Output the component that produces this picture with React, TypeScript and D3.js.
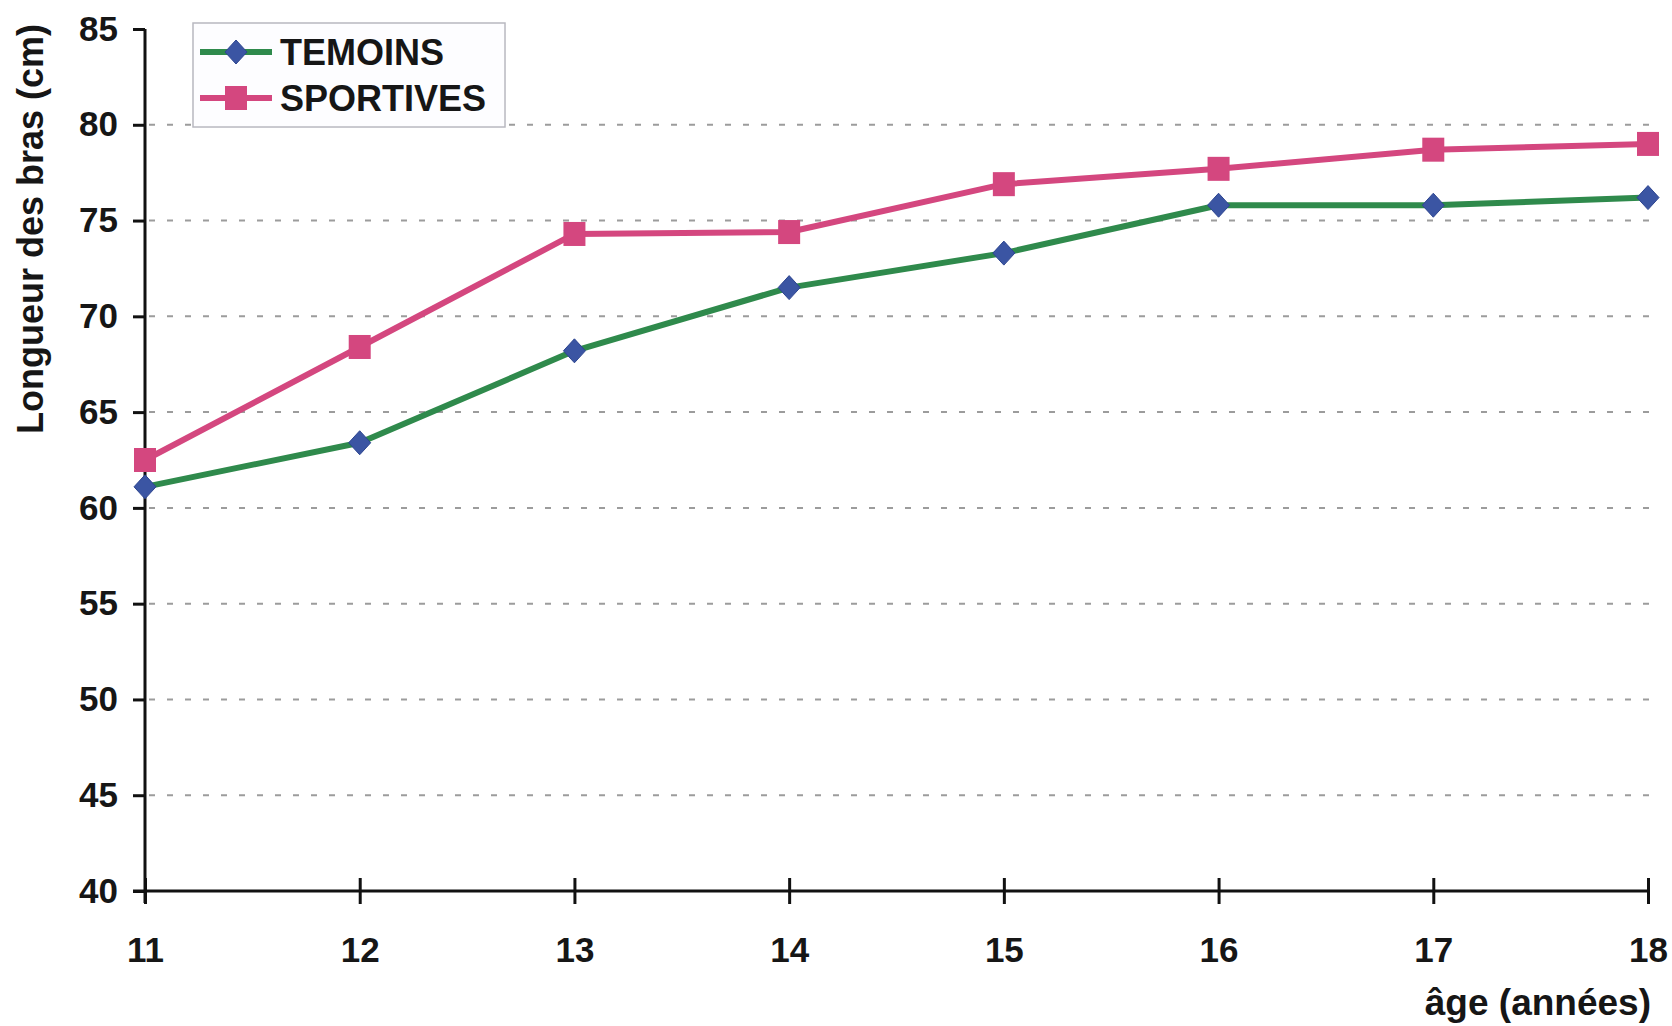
import React, { useEffect, useRef } from "react";
import * as d3 from "d3";

const ages = [11, 12, 13, 14, 15, 16, 17, 18];
const temoins = [61.1, 63.4, 68.2, 71.5, 73.3, 75.8, 75.8, 76.2];
const sportives = [62.5, 68.4, 74.3, 74.4, 76.9, 77.7, 78.7, 79.0];
const yTicks = [40, 45, 50, 55, 60, 65, 70, 75, 80, 85];
const gridValues = [45, 50, 55, 60, 65, 70, 75, 80];

const FONT = "'Liberation Sans', Arial, Helvetica, sans-serif";

export default function App() {
  const svgRef = useRef<SVGSVGElement>(null);

  useEffect(() => {
    const width = 1672;
    const height = 1026;
    const svg = d3.select(svgRef.current);
    svg.selectAll("*").remove();
    svg.attr("width", width).attr("height", height);

    // scales
    const x = d3.scaleLinear().domain([11, 18]).range([145, 1648]);
    const y = d3.scaleLinear().domain([40, 85]).range([891, 29]);

    const textColor = "#161616";

    // dashed grid lines
    svg.append("g")
      .selectAll("line")
      .data(gridValues)
      .enter()
      .append("line")
      .attr("x1", x(11) + 4)
      .attr("x2", 1652)
      .attr("y1", d => y(d))
      .attr("y2", d => y(d))
      .attr("stroke", "#9c9c9c")
      .attr("stroke-width", 2)
      .attr("stroke-dasharray", "6,12");

    // y axis
    const yAxis = d3.axisLeft(y).tickValues(yTicks).tickSize(12).tickPadding(15).tickFormat(d3.format("d"));
    const gy = svg.append("g")
      .attr("transform", `translate(${x(11)},0)`)
      .call(yAxis);
    gy.select(".domain").remove();
    gy.append("line")
      .attr("x1", 0).attr("x2", 0)
      .attr("y1", y(85)).attr("y2", y(40) + 12)
      .attr("stroke", "#111").attr("stroke-width", 3);
    gy.selectAll(".tick line").attr("stroke", "#111").attr("stroke-width", 3);
    gy.selectAll(".tick text")
      .attr("fill", textColor)
      .style("font-family", FONT)
      .style("font-weight", "bold")
      .style("font-size", "35px");

    // x axis
    const xAxis = d3.axisBottom(x).tickValues(ages).tickSize(12).tickPadding(34).tickFormat(d3.format("d"));
    const gx = svg.append("g")
      .attr("transform", `translate(0,${y(40)})`)
      .call(xAxis);
    gx.select(".domain").remove();
    gx.append("line")
      .attr("x1", x(11) - 12).attr("x2", x(18))
      .attr("y1", 0).attr("y2", 0)
      .attr("stroke", "#111").attr("stroke-width", 3);
    gx.selectAll(".tick line")
      .attr("y1", -13)
      .attr("y2", 13)
      .attr("stroke", "#111").attr("stroke-width", 3);
    gx.selectAll(".tick text")
      .attr("fill", textColor)
      .style("font-family", FONT)
      .style("font-weight", "bold")
      .style("font-size", "35px");

    // axis titles
    svg.append("text")
      .attr("transform", "translate(43,229) rotate(-90)")
      .attr("text-anchor", "middle")
      .attr("fill", textColor)
      .style("font-family", FONT)
      .style("font-weight", "bold")
      .style("font-size", "36px")
      .text("Longueur des bras (cm)");

    svg.append("text")
      .attr("x", 1651)
      .attr("y", 1015)
      .attr("text-anchor", "end")
      .attr("fill", textColor)
      .style("font-family", FONT)
      .style("font-weight", "bold")
      .style("font-size", "37px")
      .text("âge (années)");

    const series = [
      { name: "TEMOINS", values: temoins, line: "#2f8a4c", marker: "#3b55a3", shape: "diamond" },
      { name: "SPORTIVES", values: sportives, line: "#d4477f", marker: "#d4477f", shape: "square" },
    ];

    const line = d3.line<number>()
      .x((_, i) => x(ages[i]))
      .y(d => y(d));

    const drawMarker = (g, s, cx, cy) => {
      if (s.shape === "diamond") {
        g.append("path")
          .attr("d", `M${cx},${cy - 12}L${cx + 11},${cy}L${cx},${cy + 12}L${cx - 11},${cy}Z`)
          .attr("fill", s.marker)
          .attr("stroke", "#2d4590")
          .attr("stroke-width", 1);
      } else {
        g.append("rect")
          .attr("x", cx - 11)
          .attr("y", cy - 12)
          .attr("width", 22)
          .attr("height", 24)
          .attr("fill", s.marker);
      }
    };

    series.forEach(s => {
      svg.append("path")
        .datum(s.values)
        .attr("fill", "none")
        .attr("stroke", s.line)
        .attr("stroke-width", 6)
        .attr("stroke-linejoin", "round")
        .attr("d", line);
      const g = svg.append("g");
      s.values.forEach((v, i) => drawMarker(g, s, x(ages[i]), y(v)));
    });

    // legend
    const legend = svg.append("g");
    legend.append("rect")
      .attr("x", 193)
      .attr("y", 23)
      .attr("width", 312)
      .attr("height", 104)
      .attr("fill", "#fdfdff")
      .attr("stroke", "#b8b8c0")
      .attr("stroke-width", 1.5);

    series.forEach((s, i) => {
      const ly = 52 + i * 46;
      legend.append("line")
        .attr("x1", 200).attr("x2", 272)
        .attr("y1", ly).attr("y2", ly)
        .attr("stroke", s.line)
        .attr("stroke-width", 6);
      drawMarker(legend, s, 236, ly);
      legend.append("text")
        .attr("x", 280)
        .attr("y", ly + 13)
        .attr("fill", textColor)
        .style("font-family", FONT)
        .style("font-weight", "bold")
        .style("font-size", "36px")
        .text(s.name);
    });
  }, []);

  return (
    <div style={{ position: "absolute", left: 0, top: 0, background: "#fff" }}>
      <svg ref={svgRef} style={{ display: "block" }}></svg>
    </div>
  );
}
